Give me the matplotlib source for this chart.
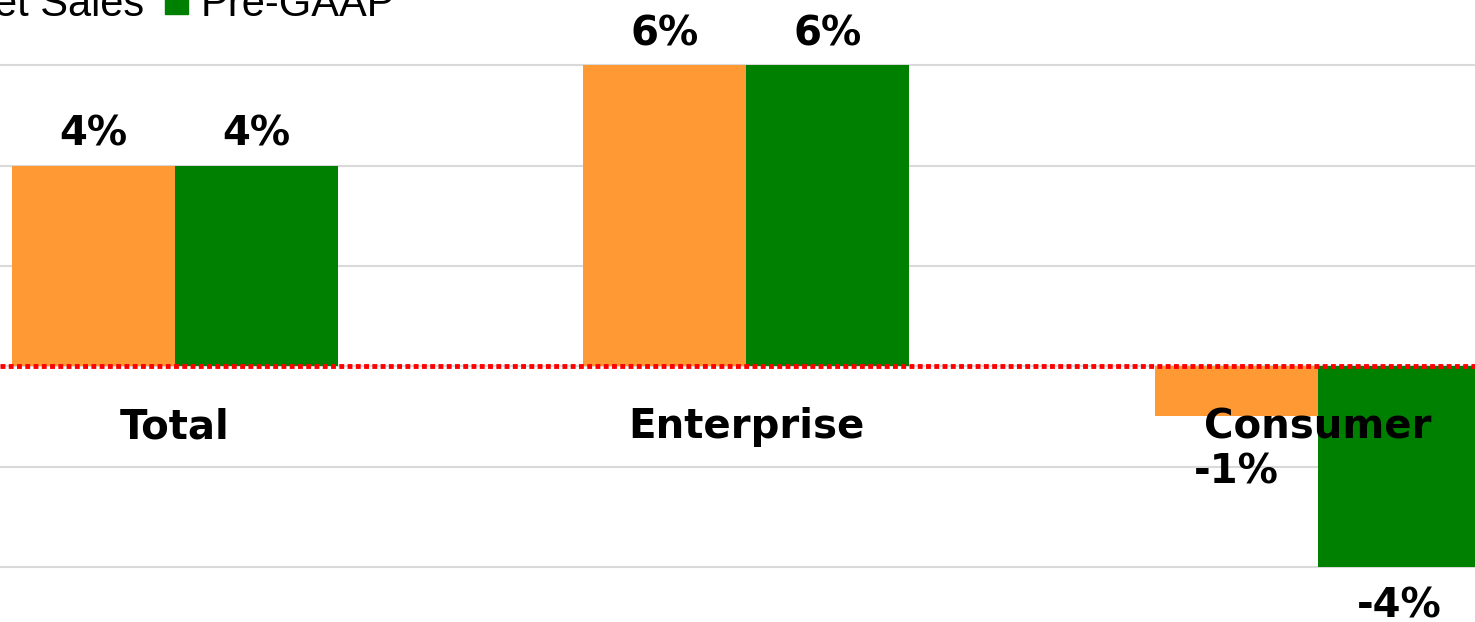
import numpy as np
import matplotlib.pyplot as plt
from matplotlib.patches import Patch

categories = ["Total", "Enterprise", "Consumer"]
net_sales = [4, 6, -1]
pre_gaap = [4, 6, -4]
series_names = ["Net Sales", "Pre-GAAP"]
gridlines = [-4, -2, 0, 2, 4, 6]

orange = "#FF9933"
green = "#008000"

fig = plt.figure(figsize=(14.75, 6.22), dpi=100)
ax = fig.add_axes([0, 0, 1, 1])

x = np.arange(len(categories))
w = 0.285
b1 = ax.bar(x - w / 2, net_sales, w, color=orange, zorder=2)
b2 = ax.bar(x + w / 2, pre_gaap, w, color=green, zorder=2)

for g in gridlines:
    ax.axhline(g, color="#D9D9D9", lw=1.5, zorder=1)
ax.axhline(0, color="red", lw=3.5, linestyle=(0, (1, 0.7)), zorder=3)

lab_font = dict(fontsize=29, fontweight="bold", family="DejaVu Sans")

# value labels
for bars, vals in [(b1, net_sales), (b2, pre_gaap)]:
    for rect, v in zip(bars, vals):
        cx = rect.get_x() + rect.get_width() / 2
        if v >= 0:
            ax.annotate(f"{v}%", (cx, v), xytext=(0, 8), textcoords="offset points",
                        ha="center", va="bottom", **lab_font)
        else:
            off = -26 if v == -1 else -14
            ax.annotate(f"{v}%", (cx, v), xytext=(0, off), textcoords="offset points",
                        ha="center", va="top", **lab_font)

# category labels just under the zero line
for i, c in enumerate(categories):
    ax.annotate(c, (i, 0), xytext=(0, -44), textcoords="offset points",
                ha="center", va="center", **lab_font)

ax.set_xlim(-0.306, 2.275)
ax.set_ylim(-5.1, 7.3)
ax.axis("off")

handles = [Patch(color=orange), Patch(color=green)]
fig.legend(handles, series_names, loc="upper left", bbox_to_anchor=(-0.074, 1.084),
           ncol=2, frameon=False, handlelength=0.55, handleheight=0.55,
           handletextpad=0.3, columnspacing=0.5, prop=dict(family="Liberation Sans", size=30))

fig.savefig("out.png", dpi=100)
